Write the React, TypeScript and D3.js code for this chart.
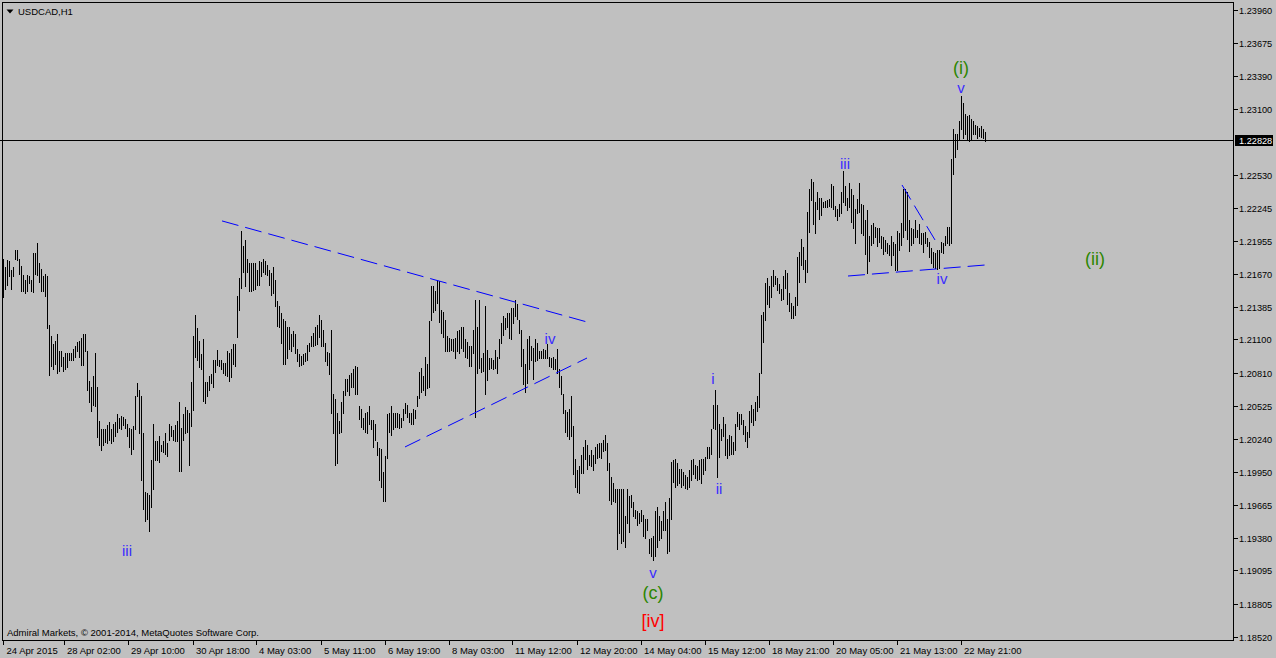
import React from 'react';
import * as d3 from 'd3';

// ---- Data (USDCAD, H1) ----
const highs: number[] = [
  1.2180, 1.2173, 1.2179, 1.2178, 1.2170, 1.2173, 1.2188, 1.2188, 1.2180, 1.2174,
  1.2166, 1.2162, 1.2166, 1.2165, 1.2162, 1.2185, 1.2185, 1.2194, 1.2176, 1.2171,
  1.2165, 1.2167, 1.2165, 1.2123, 1.2113, 1.2106, 1.2109, 1.2115, 1.2100, 1.2100,
  1.2095, 1.2098, 1.2098, 1.2098, 1.2098, 1.2102, 1.2104, 1.2108, 1.2109, 1.2111,
  1.2115, 1.2115, 1.2100, 1.2074, 1.2069, 1.2078, 1.2098, 1.2069, 1.2039, 1.2032,
  1.2032, 1.2032, 1.2036, 1.2038, 1.2032, 1.2037, 1.2038, 1.2045, 1.2042, 1.2044,
  1.2043, 1.2041, 1.2037, 1.2033, 1.2032, 1.2035, 1.2061, 1.2072, 1.2066, 1.2061,
  1.2029, 1.1978, 1.1977, 1.1975, 1.2005, 1.2037, 1.2022, 1.2022, 1.2026, 1.2018,
  1.2022, 1.2029, 1.2020, 1.2037, 1.2035, 1.2031, 1.2036, 1.2039, 1.2056, 1.2033,
  1.2045, 1.2051, 1.2049, 1.2046, 1.2073, 1.2113, 1.2131, 1.2120, 1.2109, 1.2097,
  1.2110, 1.2073, 1.2073, 1.2078, 1.2080, 1.2092, 1.2092, 1.2101, 1.2092, 1.2092,
  1.2090, 1.2090, 1.2100, 1.2098, 1.2102, 1.2106, 1.2106, 1.2148, 1.2163, 1.2204,
  1.2191, 1.2196, 1.2180, 1.2176, 1.2176, 1.2176, 1.2176, 1.2170, 1.2178, 1.2177,
  1.2180, 1.2178, 1.2175, 1.2170, 1.2168, 1.2173, 1.2162, 1.2143, 1.2139, 1.2133,
  1.2128, 1.2126, 1.2121, 1.2121, 1.2115, 1.2117, 1.2115, 1.2102, 1.2097, 1.2096,
  1.2097, 1.2098, 1.2105, 1.2107, 1.2113, 1.2116, 1.2121, 1.2123, 1.2131, 1.2127,
  1.2118, 1.2107, 1.2099, 1.2098, 1.2118, 1.2063, 1.2058, 1.2046, 1.2039, 1.2056,
  1.2065, 1.2076, 1.2076, 1.2079, 1.2081, 1.2084, 1.2087, 1.2086, 1.2052, 1.2050,
  1.2042, 1.2046, 1.2047, 1.2052, 1.2040, 1.2040, 1.2037, 1.2021, 1.2016, 1.2015,
  1.1995, 1.2009, 1.2045, 1.2046, 1.2052, 1.2046, 1.2046, 1.2046, 1.2045, 1.2042,
  1.2050, 1.2055, 1.2053, 1.2046, 1.2046, 1.2050, 1.2049, 1.2061, 1.2082, 1.2085,
  1.2078, 1.2095, 1.2089, 1.2126, 1.2156, 1.2156, 1.2152, 1.2162, 1.2161, 1.2136,
  1.2134, 1.2127, 1.2113, 1.2111, 1.2110, 1.2110, 1.2111, 1.2117, 1.2118, 1.2121,
  1.2121, 1.2110, 1.2108, 1.2104, 1.2104, 1.2118, 1.2144, 1.2121, 1.2144, 1.2094,
  1.2098, 1.2139, 1.2101, 1.2094, 1.2094, 1.2092, 1.2101, 1.2095, 1.2110, 1.2124,
  1.2130, 1.2129, 1.2133, 1.2133, 1.2137, 1.2137, 1.2144, 1.2141, 1.2127, 1.2118,
  1.2102, 1.2089, 1.2110, 1.2113, 1.2104, 1.2103, 1.2110, 1.2107, 1.2100, 1.2100,
  1.2102, 1.2101, 1.2106, 1.2095, 1.2094, 1.2095, 1.2093, 1.2102, 1.2084, 1.2078,
  1.2063, 1.2049, 1.2047, 1.2050, 1.2061, 1.2035, 1.2006, 1.1997, 1.2000, 1.2010,
  1.2017, 1.2023, 1.2018, 1.2010, 1.2014, 1.2010, 1.2017, 1.2019, 1.2020, 1.2020,
  1.2023, 1.2027, 1.2020, 1.2003, 1.1991, 1.1985, 1.1980, 1.1980, 1.1980, 1.1980,
  1.1980, 1.1957, 1.1980, 1.1974, 1.1975, 1.1969, 1.1962, 1.1961, 1.1959, 1.1962,
  1.1958, 1.1954, 1.1954, 1.1937, 1.1938, 1.1939, 1.1961, 1.1965, 1.1957, 1.1952,
  1.1961, 1.1969, 1.1954, 1.1972, 1.2004, 1.2005, 1.2006, 1.2003, 1.1998, 1.1998,
  1.1995, 1.1992, 1.1991, 1.1997, 1.2005, 1.2006, 1.2001, 1.2000, 1.2005, 1.2006,
  1.2006, 1.2008, 1.2017, 1.2017, 1.2032, 1.2053, 1.2066, 1.2053, 1.2037, 1.2032,
  1.2043, 1.2037, 1.2024, 1.2027, 1.2026, 1.2021, 1.2037, 1.2047, 1.2045, 1.2045,
  1.2040, 1.2035, 1.2030, 1.2048, 1.2053, 1.2050, 1.2056, 1.2061, 1.2081, 1.2131,
  1.2134, 1.2159, 1.2163, 1.2156, 1.2165, 1.2170, 1.2165, 1.2163, 1.2158, 1.2154,
  1.2165, 1.2170, 1.2168, 1.2150, 1.2142, 1.2139, 1.2147, 1.2182, 1.2186, 1.2197,
  1.2190, 1.2179, 1.2221, 1.2241, 1.2249, 1.2247, 1.2229, 1.2238, 1.2233, 1.2233,
  1.2229, 1.2230, 1.2231, 1.2232, 1.2245, 1.2243, 1.2226, 1.2223, 1.2228, 1.2238,
  1.2256, 1.2243, 1.2233, 1.2246, 1.2241, 1.2235, 1.2223, 1.2232, 1.2246, 1.2228,
  1.2227, 1.2214, 1.2222, 1.2200, 1.2209, 1.2211, 1.2208, 1.2207, 1.2207, 1.2200,
  1.2199, 1.2196, 1.2194, 1.2192, 1.2200, 1.2195, 1.2193, 1.2204, 1.2202, 1.2211,
  1.2241, 1.2241, 1.2238, 1.2214, 1.2207, 1.2206, 1.2214, 1.2205, 1.2210, 1.2202,
  1.2202, 1.2203, 1.2198, 1.2195, 1.2189, 1.2186, 1.2185, 1.2188, 1.2188, 1.2195,
  1.2194, 1.2200, 1.2208, 1.2208, 1.2267, 1.2293, 1.2288, 1.2288, 1.2300, 1.2321,
  1.2315, 1.2306, 1.2304, 1.2305, 1.2301, 1.2300, 1.2296, 1.2295, 1.2294, 1.2295,
  1.2293, 1.2290,
];

const lows: number[] = [
  1.2147, 1.2154, 1.2157, 1.2165, 1.2154, 1.2165, 1.2180, 1.2179, 1.2167, 1.2152,
  1.2152, 1.2150, 1.2152, 1.2159, 1.2152, 1.2151, 1.2167, 1.2166, 1.2160, 1.2152,
  1.2152, 1.2148, 1.2120, 1.2079, 1.2087, 1.2084, 1.2089, 1.2081, 1.2083, 1.2087,
  1.2083, 1.2084, 1.2086, 1.2092, 1.2092, 1.2092, 1.2095, 1.2100, 1.2095, 1.2088,
  1.2088, 1.2100, 1.2066, 1.2056, 1.2048, 1.2053, 1.2052, 1.2025, 1.2018, 1.2014,
  1.2018, 1.2021, 1.2020, 1.2023, 1.2020, 1.2022, 1.2026, 1.2030, 1.2033, 1.2032,
  1.2036, 1.2033, 1.2026, 1.2017, 1.2011, 1.2015, 1.2032, 1.2061, 1.2029, 1.1988,
  1.1963, 1.1952, 1.1954, 1.1944, 1.1965, 1.1980, 1.2005, 1.2005, 1.2004, 1.2013,
  1.2012, 1.2011, 1.2009, 1.2023, 1.2026, 1.2023, 1.2022, 1.2022, 1.1996, 1.1996,
  1.2023, 1.2029, 1.2030, 1.2001, 1.2035, 1.2049, 1.2095, 1.2092, 1.2086, 1.2084,
  1.2057, 1.2055, 1.2061, 1.2066, 1.2072, 1.2069, 1.2082, 1.2088, 1.2087, 1.2084,
  1.2081, 1.2079, 1.2078, 1.2074, 1.2077, 1.2089, 1.2087, 1.2112, 1.2136, 1.2155,
  1.2169, 1.2156, 1.2169, 1.2152, 1.2152, 1.2153, 1.2154, 1.2157, 1.2157, 1.2165,
  1.2169, 1.2167, 1.2166, 1.2157, 1.2149, 1.2150, 1.2139, 1.2122, 1.2121, 1.2107,
  1.2089, 1.2089, 1.2094, 1.2102, 1.2100, 1.2104, 1.2098, 1.2091, 1.2087, 1.2088,
  1.2089, 1.2091, 1.2092, 1.2100, 1.2104, 1.2104, 1.2105, 1.2106, 1.2112, 1.2104,
  1.2104, 1.2091, 1.2088, 1.2080, 1.2046, 1.2029, 1.2001, 1.2003, 1.2029, 1.2030,
  1.2046, 1.2062, 1.2065, 1.2062, 1.2069, 1.2069, 1.2063, 1.2063, 1.2041, 1.2034,
  1.2032, 1.2030, 1.2029, 1.2037, 1.2032, 1.2017, 1.2023, 1.2010, 1.1988, 1.1982,
  1.1970, 1.1970, 1.2007, 1.2030, 1.2027, 1.2032, 1.2034, 1.2034, 1.2033, 1.2034,
  1.2040, 1.2046, 1.2043, 1.2038, 1.2037, 1.2037, 1.2042, 1.2052, 1.2059, 1.2064,
  1.2066, 1.2062, 1.2068, 1.2069, 1.2127, 1.2134, 1.2136, 1.2142, 1.2125, 1.2116,
  1.2112, 1.2100, 1.2100, 1.2100, 1.2101, 1.2100, 1.2094, 1.2100, 1.2098, 1.2103,
  1.2100, 1.2095, 1.2094, 1.2087, 1.2087, 1.2098, 1.2043, 1.2081, 1.2085, 1.2082,
  1.2083, 1.2063, 1.2075, 1.2084, 1.2085, 1.2084, 1.2085, 1.2081, 1.2094, 1.2107,
  1.2114, 1.2119, 1.2121, 1.2111, 1.2110, 1.2124, 1.2130, 1.2128, 1.2116, 1.2087,
  1.2071, 1.2064, 1.2072, 1.2084, 1.2092, 1.2076, 1.2091, 1.2092, 1.2094, 1.2094,
  1.2094, 1.2094, 1.2094, 1.2087, 1.2086, 1.2084, 1.2084, 1.2081, 1.2069, 1.2063,
  1.2046, 1.2030, 1.2026, 1.2024, 1.2026, 1.1993, 1.1982, 1.1978, 1.1977, 1.1994,
  1.1994, 1.2006, 1.1998, 1.2001, 1.2000, 1.1997, 1.2003, 1.2007, 1.2008, 1.2007,
  1.2013, 1.2014, 1.1997, 1.1971, 1.1967, 1.1970, 1.1969, 1.1928, 1.1942, 1.1933,
  1.1935, 1.1930, 1.1951, 1.1943, 1.1965, 1.1957, 1.1955, 1.1949, 1.1951, 1.1952,
  1.1939, 1.1938, 1.1945, 1.1925, 1.1922, 1.1919, 1.1922, 1.1930, 1.1936, 1.1938,
  1.1945, 1.1945, 1.1925, 1.1926, 1.1954, 1.1986, 1.1982, 1.1984, 1.1985, 1.1982,
  1.1984, 1.1981, 1.1980, 1.1982, 1.1988, 1.1993, 1.1990, 1.1988, 1.1989, 1.1985,
  1.1993, 1.1997, 1.2007, 1.2007, 1.2011, 1.2033, 1.2032, 1.1991, 1.2008, 1.2023,
  1.2026, 1.2010, 1.2007, 1.2010, 1.2011, 1.2011, 1.2014, 1.2035, 1.2032, 1.2037,
  1.2028, 1.2022, 1.2017, 1.2025, 1.2038, 1.2036, 1.2040, 1.2048, 1.2051, 1.2081,
  1.2108, 1.2127, 1.2141, 1.2138, 1.2147, 1.2156, 1.2158, 1.2153, 1.2150, 1.2144,
  1.2145, 1.2155, 1.2141, 1.2135, 1.2129, 1.2129, 1.2131, 1.2140, 1.2160, 1.2175,
  1.2171, 1.2160, 1.2169, 1.2203, 1.2231, 1.2210, 1.2202, 1.2223, 1.2215, 1.2218,
  1.2225, 1.2225, 1.2225, 1.2226, 1.2225, 1.2223, 1.2217, 1.2214, 1.2217, 1.2220,
  1.2229, 1.2227, 1.2222, 1.2225, 1.2212, 1.2207, 1.2194, 1.2220, 1.2221, 1.2202,
  1.2201, 1.2184, 1.2168, 1.2178, 1.2192, 1.2194, 1.2199, 1.2191, 1.2195, 1.2189,
  1.2184, 1.2187, 1.2185, 1.2183, 1.2175, 1.2183, 1.2170, 1.2170, 1.2188, 1.2192,
  1.2199, 1.2205, 1.2197, 1.2187, 1.2192, 1.2194, 1.2199, 1.2199, 1.2194, 1.2193,
  1.2186, 1.2194, 1.2191, 1.2182, 1.2176, 1.2173, 1.2172, 1.2171, 1.2172, 1.2186,
  1.2185, 1.2192, 1.2194, 1.2192, 1.2194, 1.2254, 1.2268, 1.2275, 1.2284, 1.2293,
  1.2285, 1.2288, 1.2283, 1.2282, 1.2284, 1.2288, 1.2288, 1.2285, 1.2287, 1.2286,
  1.2285, 1.2282,
];

const symbolTitle = 'USDCAD,H1';
const copyright = 'Admiral Markets, \u00A9 2001-2014, MetaQuotes Software Corp.';
const currentPrice = 1.22828;

const priceTicks: number[] = [
  1.23960, 1.23675, 1.23390, 1.23100, 1.22530, 1.22245, 1.21955, 1.21670, 1.21385,
  1.21100, 1.20810, 1.20525, 1.20240, 1.19950, 1.19665, 1.19380, 1.19095, 1.18805, 1.18520,
];

const dateLabels: string[] = [
  '24 Apr 2015', '28 Apr 02:00', '29 Apr 10:00', '30 Apr 18:00', '4 May 03:00',
  '5 May 11:00', '6 May 19:00', '8 May 03:00', '11 May 12:00', '12 May 20:00',
  '14 May 04:00', '15 May 12:00', '18 May 21:00', '20 May 05:00', '21 May 13:00', '22 May 21:00',
];
const barsPerDateLabel = 32;

// trend lines: [bar index, price] -> [bar index, price]
const trendLines: { i1: number; p1: number; i2: number; p2: number }[] = [
  { i1: 109.5, p1: 1.22129, i2: 292, p2: 1.21252 },
  { i1: 201, p1: 1.20167, i2: 292, p2: 1.20939 },
  { i1: 449.5, p1: 1.22441, i2: 466, p2: 1.21964 },
  { i1: 422.5, p1: 1.21651, i2: 491.5, p2: 1.21747 },
];

// Elliott wave labels: text, bar index, price (baseline), degree
const waveLabels: { text: string; i: number; p: number; degree: string }[] = [
  { text: 'iii', i: 62, p: 1.19221, degree: 'minor' },
  { text: 'iv', i: 273.5, p: 1.21061, degree: 'minor' },
  { text: 'v', i: 325, p: 1.19030, degree: 'minor' },
  { text: 'i', i: 355, p: 1.20714, degree: 'minor' },
  { text: 'ii', i: 358, p: 1.19759, degree: 'minor' },
  { text: 'iii', i: 421, p: 1.22580, degree: 'minor' },
  { text: 'iv', i: 469.5, p: 1.21582, degree: 'minor' },
  { text: 'v', i: 479, p: 1.23240, degree: 'minor' },
  { text: '(i)', i: 479, p: 1.23404, degree: 'minute' },
  { text: '(c)', i: 325, p: 1.18848, degree: 'minute' },
  { text: '(ii)', i: 546, p: 1.21747, degree: 'minute' },
  { text: '[iv]', i: 325, p: 1.18604, degree: 'minorBig' },
];

// ---- Layout & style ----
const W = 1276;
const H = 658;
const plotL = 2.5;
const plotT = 2.5;
const plotR = 1233.5;
const plotB = 640.5;
const BG = '#c0c0c0';
const FONT = '"Liberation Sans", Arial, sans-serif';
const degreeStyle: Record<string, { color: string; size: number }> = {
  minor: { color: '#3a2cff', size: 15 },
  minute: { color: '#2c8600', size: 18 },
  minorBig: { color: '#ff0000', size: 18 },
};

export default function App() {
  const n = highs.length;
  const x = d3.scaleLinear().domain([0, n - 1]).range([3, 3 + 2 * (n - 1)]);
  const y = d3.scaleLinear().domain([1.1852, 1.2396]).range([636.7, 10.0]);
  const line = d3.line<[number, number]>().x((d) => d[0]).y((d) => d[1]);

  const bars = highs.map((h, i) => {
    const yt = Math.round(y(h));
    const yb = Math.round(y(lows[i]));
    return (
      <rect key={i} x={x(i)} y={yt} width={1} height={Math.max(1, yb - yt + 1)} fill="#000" />
    );
  });

  const yCur = Math.round(y(currentPrice)) + 0.5;

  return (
    <svg
      width={W}
      height={H}
      viewBox={`0 0 ${W} ${H}`}
      style={{ position: 'absolute', left: 0, top: 0, background: BG, display: 'block' }}
      fontFamily={FONT}
    >
      <rect x={0} y={0} width={W} height={H} fill={BG} />
      {/* plot frame */}
      <rect x={plotL} y={plotT} width={plotR - plotL} height={plotB - plotT} fill="none" stroke="#000" strokeWidth={1} shapeRendering="crispEdges" />

      {/* title */}
      <path d="M6.5,9.5 L13.5,9.5 L10,13.5 Z" fill="#000" />
      <text x={18} y={15} fontSize={9.5} fill="#000">{symbolTitle}</text>

      {/* bid line */}
      <line x1={0} x2={plotR} y1={yCur} y2={yCur} stroke="#000" strokeWidth={1} shapeRendering="crispEdges" />

      {/* bars */}
      <g shapeRendering="crispEdges">{bars}</g>

      {/* trend lines */}
      {trendLines.map((t, k) => (
        <path
          key={k}
          d={line([[x(t.i1), y(t.p1)], [x(t.i2), y(t.p2)]]) || ''}
          stroke="#0000ff"
          strokeWidth={1}
          strokeDasharray="17 7"
          fill="none"
        />
      ))}

      {/* wave labels */}
      {waveLabels.map((w, k) => {
        const st = degreeStyle[w.degree];
        return (
          <text key={k} x={x(w.i)} y={y(w.p)} fontSize={st.size} fill={st.color} textAnchor="middle">
            {w.text}
          </text>
        );
      })}

      {/* copyright */}
      <text x={7} y={636} fontSize={9.5} fill="#000">{copyright}</text>

      {/* price axis */}
      {priceTicks.map((p, k) => {
        const yy = Math.round(y(p)) + 0.5;
        return (
          <g key={k}>
            <line x1={plotR} x2={plotR + 4} y1={yy} y2={yy} stroke="#000" shapeRendering="crispEdges" />
            <text x={1239} y={yy + 3.5} fontSize={9.2} fill="#000">{p.toFixed(5)}</text>
          </g>
        );
      })}
      <rect x={1235} y={yCur - 5.5} width={38} height={11} fill="#000" />
      <text x={1239} y={yCur + 3.5} fontSize={9.2} fill="#fff">{currentPrice.toFixed(5)}</text>

      {/* time axis */}
      {dateLabels.map((lab, k) => {
        const tx = k === 0 ? x(0) + 0.5 : Math.round(x(k * barsPerDateLabel) - 2.5) + 0.5;
        return (
          <g key={k}>
            <line x1={tx} x2={tx} y1={plotB} y2={plotB + 4} stroke="#000" shapeRendering="crispEdges" />
            <text x={tx + (k === 0 ? 3 : 2.5)} y={654} fontSize={9.5} fill="#000">{lab}</text>
          </g>
        );
      })}
    </svg>
  );
}
